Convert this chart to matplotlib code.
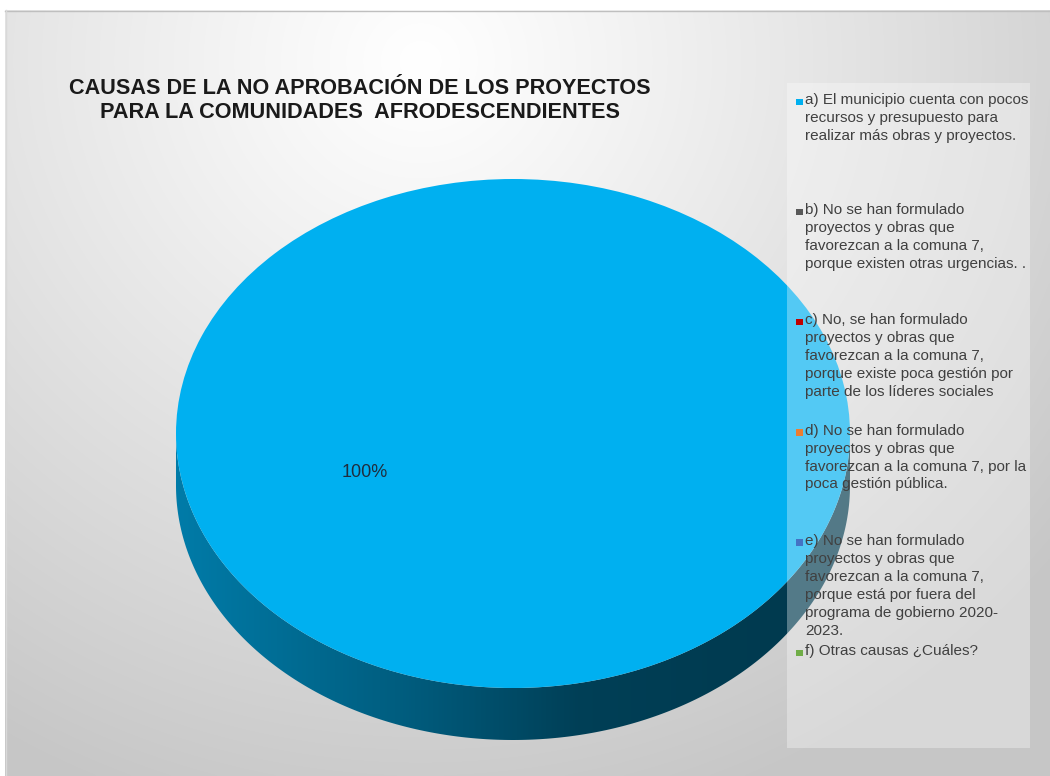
import numpy as np
import matplotlib
matplotlib.use("Agg")
import matplotlib.pyplot as plt
from matplotlib.colors import LinearSegmentedColormap, to_rgb
from matplotlib.patches import Rectangle, Polygon

# ---------------- data ----------------
title_lines = ["CAUSAS DE LA NO APROBACIÓN DE LOS PROYECTOS",
               "PARA LA COMUNIDADES  AFRODESCENDIENTES"]
categories = [
    "a) El municipio cuenta con pocos\nrecursos y presupuesto para\nrealizar más obras y proyectos.",
    "b) No se han formulado\nproyectos y obras que\nfavorezcan a la comuna 7,\nporque existen otras urgencias. .",
    "c) No, se han formulado\nproyectos y obras que\nfavorezcan a la comuna 7,\nporque existe poca gestión por\nparte de los líderes sociales",
    "d) No se han formulado\nproyectos y obras que\nfavorezcan a la comuna 7, por la\npoca gestión pública.",
    "e) No se han formulado\nproyectos y obras que\nfavorezcan a la comuna 7,\nporque está por fuera del\nprograma de gobierno 2020-\n2023.",
    "f) Otras causas ¿Cuáles?",
]
values = [100, 0, 0, 0, 0, 0]
colors = ["#00B0F0", "#595959", "#C00000", "#ED7D31", "#4472C4", "#70AD47"]

W, H = 1050, 776
fig = plt.figure(figsize=(W / 100, H / 100), dpi=100)
fig.patch.set_facecolor("white")

# ---------------- background ----------------
bg = fig.add_axes([0, 0, 1, 1])
bg.set_xlim(0, W)
bg.set_ylim(H, 0)
bg.axis("off")
yy, xx = np.mgrid[10:H:2, 5:W:2]
r = np.sqrt(((xx - 420) / 1.0) ** 2 + ((yy - 60) / 0.95) ** 2)
t = np.clip(r / 820, 0, 1) ** 1.1
c0 = np.array([1.0, 1.0, 1.0])
c1 = np.array([0.78, 0.78, 0.78])
img = c0[None, None, :] * (1 - t[..., None]) + c1[None, None, :] * t[..., None]
bg.imshow(img, extent=[5, W, H, 10], aspect="auto", zorder=0, interpolation="bilinear")
bg.plot([5, W], [10.5, 10.5], color="#bfbfbf", lw=1, zorder=1)
bg.plot([5.5, 5.5], [10, H], color="#d9d9d9", lw=1, zorder=1)

for i, line in enumerate(title_lines):
    bg.text(360, 89 + i * 24, line, ha="center", va="center",
            fontsize=15.6, fontweight="bold", family="Liberation Sans",
            color="#1a1a1a", zorder=2)

# ---------------- 3D pie ----------------
x0, x1 = 176, 850
ytop, ybot_face, ybot = 179, 688, 740
ax = fig.add_axes([x0 / W, 1 - ybot / H, (x1 - x0) / W, (ybot - ytop) / H])
ry_px = (ybot_face - ytop) / 2
dd = (ybot - ybot_face) / ry_px

def pct(p):
    return f"{p:.0f}%" if p > 0 else ""

wedges, texts, autotexts = ax.pie(
    values, colors=colors, startangle=90, counterclock=False, radius=1,
    autopct=pct, wedgeprops=dict(linewidth=0), textprops=dict(fontsize=13, color="#1f2d3d"))
ax.set_aspect("auto")
ax.set_xlim(-1, 1)
ax.set_ylim(-1 - dd, 1)
ax.axis("off")
for w in wedges:
    w.set_zorder(3)
for a in autotexts:
    a.set_position((-0.44, -0.155))
    a.set_zorder(5)
    a.set_family("Liberation Sans")

for w, v in zip(wedges, values):
    if v <= 0:
        continue
    base = np.array(to_rgb(w.get_facecolor()))
    side_cmap = LinearSegmentedColormap.from_list(
        "side", [(0.0, base * 0.70), (0.35, base * 0.52), (0.6, base * 0.36), (1.0, base * 0.32)])
    t1, t2 = w.theta1, w.theta2
    for k in (-2, -1, 0, 1):
        lo = max(t1, 180 + 360 * k)
        hi = min(t2, 360 + 360 * k)
        if hi <= lo:
            continue
        th = np.radians(np.linspace(lo, hi, 300))
        top = np.column_stack([np.cos(th), np.sin(th)])
        bot = np.column_stack([np.cos(th[::-1]), np.sin(th[::-1]) - dd])
        poly = Polygon(np.vstack([top, bot]), closed=True, facecolor="none",
                       edgecolor="none", transform=ax.transData)
        ax.add_patch(poly)
        im = ax.imshow(np.tile(np.linspace(0, 1, 400), (2, 1)), cmap=side_cmap,
                       extent=[-1, 1, -1 - dd, 0.2], aspect="auto", zorder=2,
                       interpolation="bilinear")
        im.set_clip_path(poly)
ax.set_xlim(-1, 1)
ax.set_ylim(-1 - dd, 1)

# ---------------- legend ----------------
lg = fig.add_axes([0, 0, 1, 1], facecolor="none")
lg.set_xlim(0, W)
lg.set_ylim(H, 0)
lg.axis("off")
lg.add_patch(Rectangle((787, 83), 1030 - 787, 748 - 83, facecolor="white",
                       alpha=0.33, edgecolor="none", zorder=1))
y_first = 102
step = 110.2
for i, (lab, col) in enumerate(zip(categories, colors)):
    y = y_first + i * step
    lg.add_patch(Rectangle((796, y - 3.5), 6.5, 6.5, facecolor=col, edgecolor="none", zorder=3))
    lg.text(805, y - 9, lab, ha="left", va="top", fontsize=11, family="Liberation Sans",
            color="#404040", linespacing=1.36, zorder=3)

fig.savefig("out.png", dpi=100)
